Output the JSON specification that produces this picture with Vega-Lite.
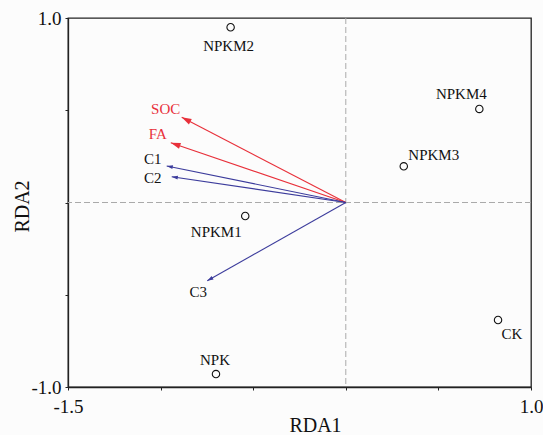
{
  "$schema": "https://vega.github.io/schema/vega-lite/v6.json",
  "width": 463,
  "height": 369,
  "autosize": "none",
  "padding": {"left": 68, "top": 18, "right": 12, "bottom": 48},
  "background": "#fcfcfc",
  "config": {
    "view": {"stroke": "#222222", "strokeWidth": 1.3},
    "font": "Liberation Serif",
    "mark": {"font": "Liberation Serif"},
    "text": {"font": "Liberation Serif", "fontSize": 15}
  },
  "datasets": {
    "sites": [
      {"name": "NPKM2", "RDA1": -0.622, "RDA2": 0.95},
      {"name": "NPKM4", "RDA1": 0.721, "RDA2": 0.507},
      {"name": "NPKM3", "RDA1": 0.313, "RDA2": 0.196},
      {"name": "NPKM1", "RDA1": -0.543, "RDA2": -0.073},
      {"name": "NPK", "RDA1": -0.701, "RDA2": -0.93},
      {"name": "CK", "RDA1": 0.822, "RDA2": -0.637}
    ],
    "vars": [
      {"name": "SOC", "group": "soil", "RDA1": -0.886, "RDA2": 0.462, "angle": 297.4},
      {"name": "FA", "group": "soil", "RDA1": -0.945, "RDA2": 0.324, "angle": 288.9},
      {"name": "C1", "group": "comp", "RDA1": -0.967, "RDA2": 0.198, "angle": 281.5},
      {"name": "C2", "group": "comp", "RDA1": -0.94, "RDA2": 0.14, "angle": 278.4},
      {"name": "C3", "group": "comp", "RDA1": -0.748, "RDA2": -0.424, "angle": 240.5}
    ]
  },
  "encoding": {
    "x": {
      "type": "quantitative",
      "scale": {"domain": [-1.5, 1.0], "nice": false, "zero": false},
      "axis": {
        "title": "RDA1",
        "values": [-1.5, -1, -0.5, 0, 0.5, 1],
        "labelExpr": "datum.value == -1.5 ? '-1.5' : (datum.value == 1 ? '1.0' : '')",
        "grid": false,
        "domainColor": "#222222",
        "domainWidth": 1.3,
        "tickColor": "#222222",
        "tickSize": 3,
        "labelFont": "Liberation Serif",
        "labelFontSize": 19,
        "labelColor": "#111111",
        "labelPadding": 7,
        "labelFlush": false,
        "labelOverlap": false,
        "titleFont": "Liberation Serif",
        "titleFontSize": 20,
        "titleFontWeight": "normal",
        "titleColor": "#111111",
        "titleX": 247,
        "titleY": 38,
        "titleBaseline": "middle"
      }
    },
    "y": {
      "type": "quantitative",
      "scale": {"domain": [-1.0, 1.0], "nice": false, "zero": false},
      "axis": {
        "title": "RDA2",
        "values": [-1, -0.5, 0, 0.5, 1],
        "labelExpr": "datum.value == -1 ? '-1.0' : (datum.value == 1 ? '1.0' : '')",
        "grid": false,
        "domainColor": "#222222",
        "domainWidth": 1.3,
        "tickColor": "#222222",
        "tickSize": 3,
        "labelFont": "Liberation Serif",
        "labelFontSize": 19,
        "labelColor": "#111111",
        "labelPadding": 4,
        "labelFlush": false,
        "labelOverlap": false,
        "titleFont": "Liberation Serif",
        "titleFontSize": 20,
        "titleFontWeight": "normal",
        "titleColor": "#111111",
        "titleAngle": -90,
        "titleX": -46,
        "titleY": 188,
        "titleBaseline": "middle",
        "titleAlign": "center"
      }
    }
  },
  "layer": [
    {
      "data": {"values": [{"v": 0}]},
      "mark": {"type": "rule", "color": "#aaaaaa", "strokeDash": [6, 3], "strokeWidth": 1},
      "encoding": {"x": {"field": "v", "type": "quantitative"}}
    },
    {
      "data": {"values": [{"v": 0}]},
      "mark": {"type": "rule", "color": "#aaaaaa", "strokeDash": [6, 3], "strokeWidth": 1},
      "encoding": {"y": {"field": "v", "type": "quantitative"}}
    },
    {
      "data": {"name": "vars"},
      "mark": {"type": "rule", "strokeWidth": 1.1},
      "encoding": {
        "x": {"field": "RDA1", "type": "quantitative"},
        "y": {"field": "RDA2", "type": "quantitative"},
        "x2": {"datum": 0},
        "y2": {"datum": 0},
        "color": {"field": "group", "type": "nominal", "scale": {"domain": ["soil", "comp"], "range": ["#e8303a", "#3c3c9c"]}, "legend": null}
      }
    },
    {
      "data": {"name": "vars"},
      "transform": [{"filter": "datum.group == 'soil'"}],
      "mark": {"type": "point", "shape": "M0,0L0.32,1L-0.32,1Z", "filled": true, "size": 380, "color": "#e8303a", "strokeWidth": 0, "opacity": 1},
      "encoding": {
        "x": {"field": "RDA1", "type": "quantitative"},
        "y": {"field": "RDA2", "type": "quantitative"},
        "angle": {"field": "angle", "type": "quantitative", "scale": null}
      }
    },
    {
      "data": {"name": "vars"},
      "transform": [{"filter": "datum.group == 'comp'"}],
      "mark": {"type": "point", "shape": "M0,0L0.32,1L-0.32,1Z", "filled": true, "size": 150, "color": "#3c3c9c", "strokeWidth": 0, "opacity": 1},
      "encoding": {
        "x": {"field": "RDA1", "type": "quantitative"},
        "y": {"field": "RDA2", "type": "quantitative"},
        "angle": {"field": "angle", "type": "quantitative", "scale": null}
      }
    },
    {
      "data": {"name": "sites"},
      "mark": {"type": "point", "shape": "circle", "filled": false, "size": 55, "color": "#111111", "strokeWidth": 1.1, "opacity": 1},
      "encoding": {
        "x": {"field": "RDA1", "type": "quantitative"},
        "y": {"field": "RDA2", "type": "quantitative"}
      }
    },
    {
      "data": {"name": "sites"},
      "transform": [{"filter": "datum.name == 'NPKM2'"}],
      "mark": {"type": "text", "font": "Liberation Serif", "fontSize": 15, "dx": -2, "dy": 19, "color": "#111111"},
      "encoding": {"x": {"field": "RDA1", "type": "quantitative"}, "y": {"field": "RDA2", "type": "quantitative"}, "text": {"field": "name"}}
    },
    {
      "data": {"name": "sites"},
      "transform": [{"filter": "datum.name == 'NPKM1'"}],
      "mark": {"type": "text", "font": "Liberation Serif", "fontSize": 15, "dx": -29, "dy": 16, "color": "#111111"},
      "encoding": {"x": {"field": "RDA1", "type": "quantitative"}, "y": {"field": "RDA2", "type": "quantitative"}, "text": {"field": "name"}}
    },
    {
      "data": {"name": "sites"},
      "transform": [{"filter": "datum.name == 'NPK'"}],
      "mark": {"type": "text", "font": "Liberation Serif", "fontSize": 15, "dx": -1, "dy": -14, "color": "#111111"},
      "encoding": {"x": {"field": "RDA1", "type": "quantitative"}, "y": {"field": "RDA2", "type": "quantitative"}, "text": {"field": "name"}}
    },
    {
      "data": {"name": "sites"},
      "transform": [{"filter": "datum.name == 'NPKM4'"}],
      "mark": {"type": "text", "font": "Liberation Serif", "fontSize": 15, "dx": -18, "dy": -15, "color": "#111111"},
      "encoding": {"x": {"field": "RDA1", "type": "quantitative"}, "y": {"field": "RDA2", "type": "quantitative"}, "text": {"field": "name"}}
    },
    {
      "data": {"name": "sites"},
      "transform": [{"filter": "datum.name == 'NPKM3'"}],
      "mark": {"type": "text", "font": "Liberation Serif", "fontSize": 15, "dx": 30, "dy": -11, "color": "#111111"},
      "encoding": {"x": {"field": "RDA1", "type": "quantitative"}, "y": {"field": "RDA2", "type": "quantitative"}, "text": {"field": "name"}}
    },
    {
      "data": {"name": "sites"},
      "transform": [{"filter": "datum.name == 'CK'"}],
      "mark": {"type": "text", "font": "Liberation Serif", "fontSize": 15, "dx": 14, "dy": 14, "color": "#111111"},
      "encoding": {"x": {"field": "RDA1", "type": "quantitative"}, "y": {"field": "RDA2", "type": "quantitative"}, "text": {"field": "name"}}
    },
    {
      "data": {"name": "vars"},
      "transform": [{"filter": "datum.name == 'SOC'"}],
      "mark": {"type": "text", "font": "Liberation Serif", "fontSize": 15, "dx": -16, "dy": -8, "color": "#e8303a"},
      "encoding": {"x": {"field": "RDA1", "type": "quantitative"}, "y": {"field": "RDA2", "type": "quantitative"}, "text": {"field": "name"}}
    },
    {
      "data": {"name": "vars"},
      "transform": [{"filter": "datum.name == 'FA'"}],
      "mark": {"type": "text", "font": "Liberation Serif", "fontSize": 15, "dx": -13, "dy": -9, "color": "#e8303a"},
      "encoding": {"x": {"field": "RDA1", "type": "quantitative"}, "y": {"field": "RDA2", "type": "quantitative"}, "text": {"field": "name"}}
    },
    {
      "data": {"name": "vars"},
      "transform": [{"filter": "datum.name == 'C1'"}],
      "mark": {"type": "text", "font": "Liberation Serif", "fontSize": 15, "dx": -14, "dy": -7, "color": "#111111"},
      "encoding": {"x": {"field": "RDA1", "type": "quantitative"}, "y": {"field": "RDA2", "type": "quantitative"}, "text": {"field": "name"}}
    },
    {
      "data": {"name": "vars"},
      "transform": [{"filter": "datum.name == 'C2'"}],
      "mark": {"type": "text", "font": "Liberation Serif", "fontSize": 15, "dx": -19, "dy": 1, "color": "#111111"},
      "encoding": {"x": {"field": "RDA1", "type": "quantitative"}, "y": {"field": "RDA2", "type": "quantitative"}, "text": {"field": "name"}}
    },
    {
      "data": {"name": "vars"},
      "transform": [{"filter": "datum.name == 'C3'"}],
      "mark": {"type": "text", "font": "Liberation Serif", "fontSize": 15, "dx": -9, "dy": 11, "color": "#111111"},
      "encoding": {"x": {"field": "RDA1", "type": "quantitative"}, "y": {"field": "RDA2", "type": "quantitative"}, "text": {"field": "name"}}
    }
  ]
}
